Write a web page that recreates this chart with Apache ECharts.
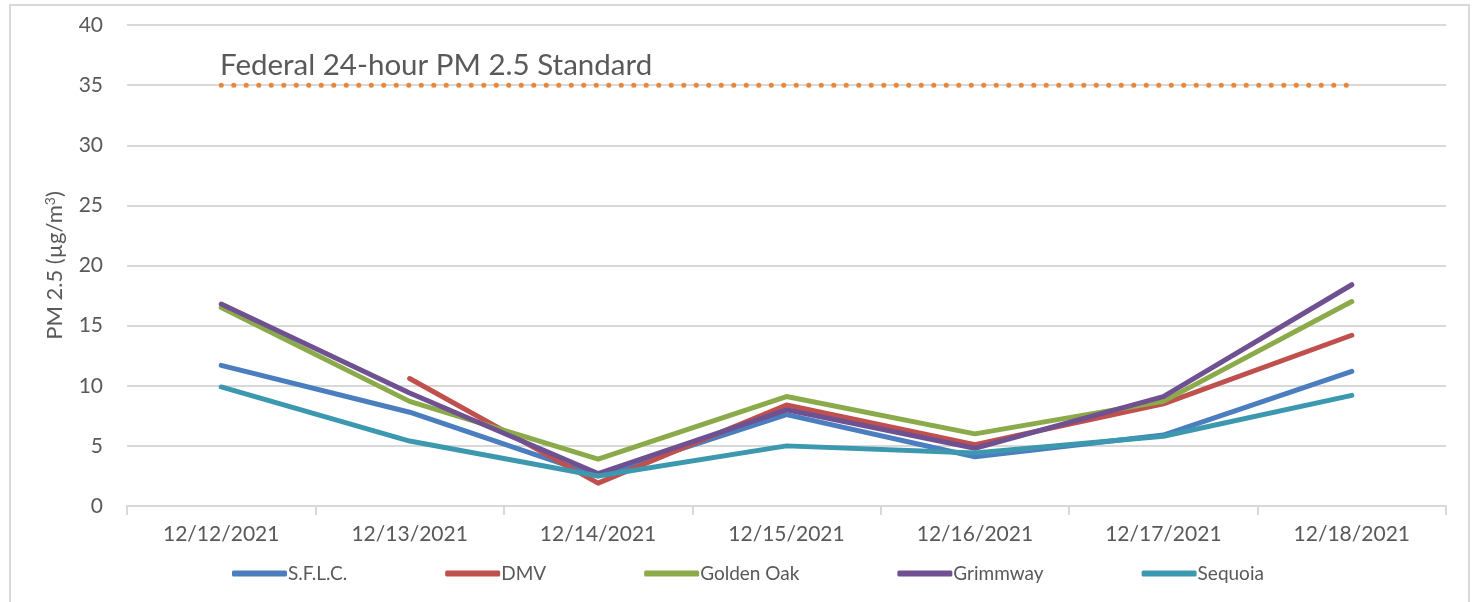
<!DOCTYPE html>
<html>
<head>
<meta charset="utf-8">
<script src="https://cdn.jsdelivr.net/npm/echarts@6/dist/echarts.min.js"></script>
<style>
  html, body { margin: 0; padding: 0; background: #fff; }
  #chart { width: 1476px; height: 602px; }
</style>
</head>
<body>
<div id="chart"></div>
<script>
// data
const dates = ['12/12/2021', '12/13/2021', '12/14/2021', '12/15/2021', '12/16/2021', '12/17/2021', '12/18/2021'];
const sflc = [11.7, 7.8, 2.5, 7.6, 4.1, 5.9, 11.2];
const dmv = [null, 10.6, 1.9, 8.4, 5.1, 8.5, 14.2];
const goldenOak = [16.5, 8.7, 3.9, 9.1, 6.0, 8.7, 17.0];
const grimmway = [16.8, 9.4, 2.7, 8.0, 4.8, 9.1, 18.4];
const sequoia = [9.9, 5.4, 2.5, 5.0, 4.4, 5.8, 9.2];
const federalStd = [35, 35, 35, 35, 35, 35, 35];

const FONT = 'Lato, "Open Sans", sans-serif';
const GRAY = '#595959';

const chart = echarts.init(document.getElementById('chart'));

const mkLine = (name, data, color) => ({
  name,
  type: 'line',
  data,
  showSymbol: false,
  symbol: 'none',
  connectNulls: false,
  lineStyle: { width: 5, color, cap: 'round', join: 'round' },
  itemStyle: { color },
  emphasis: { disabled: true },
});

chart.setOption({
  animation: false,
  textStyle: { fontFamily: FONT },
  graphic: [
    {
      type: 'rect',
      shape: { x: 10, y: 5, width: 1459, height: 620 },
      style: { fill: 'none', stroke: '#D9D9D9', lineWidth: 2 },
      silent: true,
    },
    {
      type: 'text',
      left: 220,
      top: 50,
      style: { text: 'Federal 24-hour PM 2.5 Standard', fill: GRAY, font: '29.5px ' + FONT },
      silent: true,
    },
  ],
  grid: { left: 127, right: 30, top: 25, bottom: 96 },
  legend: {
    left: 227,
    top: 559,
    icon: 'roundRect',
    itemWidth: 55,
    itemHeight: 6,
    itemGap: 98,
    textStyle: { color: GRAY, fontSize: 19, fontFamily: FONT, padding: [0, 0, 0, -4] },
    data: ['S.F.L.C.', 'DMV', 'Golden Oak', 'Grimmway', 'Sequoia'],
  },
  xAxis: {
    type: 'category',
    data: dates,
    boundaryGap: true,
    axisLine: { lineStyle: { color: '#D9D9D9', width: 2 } },
    axisTick: { show: true, length: 9, lineStyle: { color: '#D9D9D9', width: 2 } },
    axisLabel: { color: GRAY, fontSize: 21, margin: 18 },
  },
  yAxis: {
    type: 'value',
    min: 0,
    max: 40,
    interval: 5,
    name: 'PM 2.5 (µg/m{sup|3})',
    nameLocation: 'middle',
    nameGap: 60,
    nameRotate: 90,
    nameTextStyle: {
      color: GRAY,
      fontSize: 22,
      rich: { sup: { fontSize: 14, verticalAlign: 'top', padding: [0, 0, 10, 0], color: GRAY } },
    },
    axisLine: { show: false },
    axisTick: { show: false },
    axisLabel: { color: GRAY, fontSize: 21, margin: 24 },
    splitLine: { lineStyle: { color: '#D9D9D9', width: 2 } },
  },
  series: [
    {
      name: 'Federal 24-hour PM 2.5 Standard',
      type: 'line',
      data: federalStd,
      symbol: 'none',
      lineStyle: { width: 5, color: '#E8873A', type: [0.1, 12.4], cap: 'round' },
      emphasis: { disabled: true },
      z: 1,
    },
    mkLine('S.F.L.C.', sflc, '#4A7EBF'),
    mkLine('DMV', dmv, '#C0504D'),
    mkLine('Golden Oak', goldenOak, '#8BAA4A'),
    mkLine('Grimmway', grimmway, '#6F5191'),
    mkLine('Sequoia', sequoia, '#3C98AE'),
  ],
});
</script>
</body>
</html>
